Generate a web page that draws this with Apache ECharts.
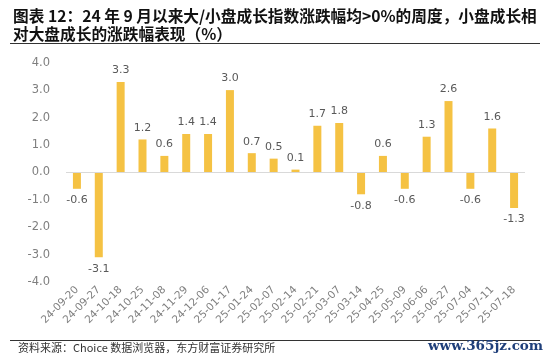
<!DOCTYPE html>
<html>
<head>
<meta charset="utf-8">
<script src="https://cdn.jsdelivr.net/npm/echarts@6/dist/echarts.min.js"></script>
<style>html,body{margin:0;padding:0;background:#fff;}#c{width:550px;height:361px;}</style>
</head>
<body>
<div id="c"></div>
<script>
var categories = ["24-09-20","24-09-27","24-10-18","24-10-25","24-11-08","24-11-29","24-12-06","25-01-17","25-01-24","25-02-07","25-02-14","25-02-21","25-03-07","25-03-14","25-04-25","25-05-09","25-06-06","25-06-27","25-07-04","25-07-11","25-07-18"];
var values = [-0.6,-3.1,3.3,1.2,0.6,1.4,1.4,3.0,0.7,0.5,0.1,1.7,1.8,-0.8,0.6,-0.6,1.3,2.6,-0.6,1.6,-1.3];
var titleLines = ["图表 12：24 年 9 月以来大/小盘成长指数涨跌幅均>0%的周度，小盘成长相","对大盘成长的涨跌幅表现（%）"];
var sourceText = "资料来源：Choice 数据浏览器，东方财富证券研究所";
var watermark = "www.365jz.com";

var chart = echarts.init(document.getElementById('c'));
var cjk = '"Noto Sans CJK SC", "Noto Sans", sans-serif';
var num = '"DejaVu Sans", sans-serif';
chart.setOption({
  animation: false,
  grid: {left: 66, right: 25, top: 62.7, bottom: 79},
  xAxis: {
    type: 'category', data: categories,
    axisLine: {show: false, onZero: false}, axisTick: {show: false},
    axisLabel: {rotate: 45, fontSize: 10.5, color: '#7f7f7f', margin: 6, interval: 0, fontFamily: num}
  },
  yAxis: {
    type: 'value', min: -4, max: 4, interval: 1,
    axisLine: {show: false}, axisTick: {show: false}, splitLine: {show: false},
    axisLabel: {fontSize: 11.5, color: '#7f7f7f', margin: 16, fontFamily: num, formatter: function(v){return v.toFixed(1);}}
  },
  series: [{
    type: 'bar', data: values, barWidth: 8,
    itemStyle: {color: '#F5C243'},
    label: {show: true, position: 'outside', distance: 6, fontSize: 11, color: '#595959', fontFamily: num,
      formatter: function(p){return p.value.toFixed(1);}},
    markLine: {silent: true, symbol: 'none', label: {show: false},
      lineStyle: {color: '#d9d9d9', type: 'solid', width: 1},
      data: [{yAxis: 0}]}
  }],
  graphic: [
    {type: 'text', left: 13, top: 8, style: {text: titleLines[0], font: 'bold 15.7px ' + cjk, fill: '#111'}},
    {type: 'text', left: 13, top: 26, style: {text: titleLines[1], font: 'bold 15.7px ' + cjk, fill: '#111'}},
    {type: 'line', shape: {x1: 10, y1: 43.5, x2: 540, y2: 43.5}, style: {stroke: '#333', lineWidth: 1}},
    {type: 'line', shape: {x1: 10, y1: 340.5, x2: 540, y2: 340.5}, style: {stroke: '#333', lineWidth: 1}},
    {type: 'text', left: 18, top: 342, style: {text: sourceText, font: '11px ' + cjk, fill: '#333'}},
    {type: 'text', left: 428, top: 339, style: {text: watermark, font: 'bold 13.5px "DejaVu Serif", serif', fill: '#1f3f7a'}}
  ]
});
</script>
</body>
</html>
